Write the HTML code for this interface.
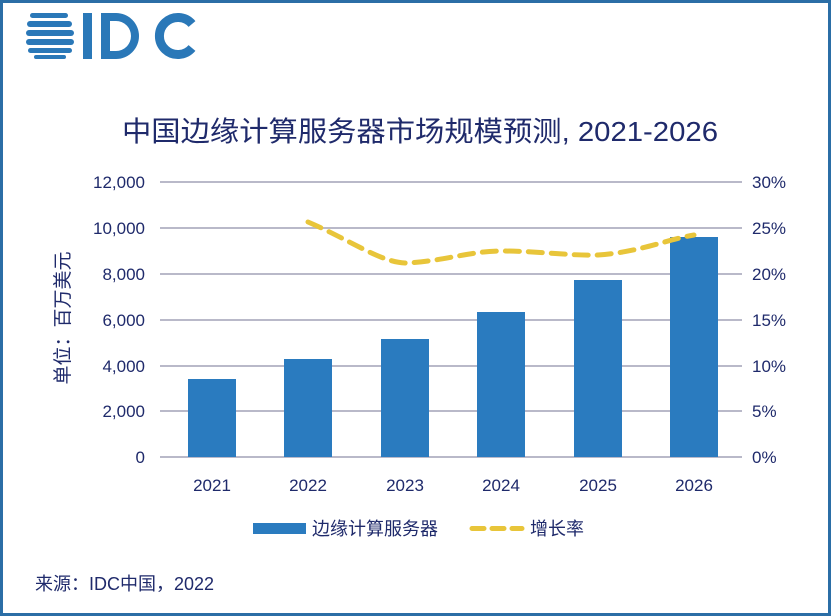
<!DOCTYPE html>
<html><head><meta charset="utf-8"><style>
html,body{margin:0;padding:0;background:#fff;}
svg{display:block;}
text{font-family:"Liberation Sans","Noto Sans CJK SC",sans-serif;fill:#1f2a6b;}
</style></head><body>
<svg width="831" height="616" viewBox="0 0 831 616" xmlns="http://www.w3.org/2000/svg">
<rect x="0" y="0" width="831" height="616" fill="#fff"/>
<rect x="1.5" y="1.5" width="828" height="613" fill="none" stroke="#2b6ea6" stroke-width="3"/>
<!-- logo -->
<g fill="#2a78b8">
<rect x="30" y="13" width="38" height="5" rx="2.5"/>
<rect x="27" y="21" width="45" height="6" rx="3"/>
<rect x="26" y="30" width="48" height="6" rx="3"/>
<rect x="26" y="39" width="48" height="6" rx="3"/>
<rect x="28" y="48" width="44" height="5" rx="2.5"/>
<rect x="34" y="55" width="32" height="4" rx="2"/>
<rect x="83" y="13" width="9" height="46"/>
<path d="M101 13 h15 a23 23 0 0 1 0 46 h-15 z M110 21 v30 h6 a15 15 0 0 0 0 -30 z" fill-rule="evenodd"/>
</g>
<path d="M192 24 A18.5 18.5 0 1 0 192 48" fill="none" stroke="#2a78b8" stroke-width="9"/>
<text x="122" y="141" font-size="28" textLength="596" lengthAdjust="spacingAndGlyphs">中国边缘计算服务器市场规模预测, 2021-2026</text>
<!-- grid -->
<g stroke="#b9b9c9" stroke-width="2">
<line x1="160" y1="182" x2="742" y2="182"/>
<line x1="160" y1="228" x2="742" y2="228"/>
<line x1="160" y1="274" x2="742" y2="274"/>
<line x1="160" y1="320" x2="742" y2="320"/>
<line x1="160" y1="366" x2="742" y2="366"/>
<line x1="160" y1="411" x2="742" y2="411"/>
<line x1="160" y1="457" x2="742" y2="457"/>
</g>
<g font-size="17" text-anchor="end">
<text x="145" y="188">12,000</text>
<text x="145" y="234">10,000</text>
<text x="145" y="280">8,000</text>
<text x="145" y="326">6,000</text>
<text x="145" y="372">4,000</text>
<text x="145" y="417">2,000</text>
<text x="145" y="463">0</text>
</g>
<g font-size="17" text-anchor="start">
<text x="752" y="188">30%</text>
<text x="752" y="234">25%</text>
<text x="752" y="280">20%</text>
<text x="752" y="326">15%</text>
<text x="752" y="372">10%</text>
<text x="752" y="417">5%</text>
<text x="752" y="463">0%</text>
</g>
<text transform="translate(69 318) rotate(-90)" font-size="19" text-anchor="middle">单位：百万美元</text>
<g fill="#2a7bbf">
<rect x="188" y="379" width="48" height="78"/>
<rect x="284" y="359" width="48" height="98"/>
<rect x="381" y="339" width="48" height="118"/>
<rect x="477" y="312" width="48" height="145"/>
<rect x="574" y="280" width="48" height="177"/>
<rect x="670" y="237" width="48" height="220"/>
</g>
<path d="M308 222 C350 240 380 262 405 263 C440 262 470 251 501 251 C540 251 570 256 598 255 C640 252 665 240 694 235" fill="none" stroke="#e8c53a" stroke-width="5" stroke-dasharray="14 9" stroke-linecap="round"/>
<g font-size="17" text-anchor="middle">
<text x="212" y="491">2021</text>
<text x="308" y="491">2022</text>
<text x="405" y="491">2023</text>
<text x="501" y="491">2024</text>
<text x="598" y="491">2025</text>
<text x="694" y="491">2026</text>
</g>
<rect x="253" y="523" width="53" height="11" fill="#2a7bbf"/>
<text x="312" y="535" font-size="18">边缘计算服务器</text>
<line x1="472" y1="528.5" x2="522" y2="528.5" stroke="#e8c53a" stroke-width="5" stroke-dasharray="12 8" stroke-linecap="round"/>
<text x="530" y="535" font-size="18">增长率</text>
<text x="35" y="590" font-size="18">来源：IDC中国，2022</text>
</svg>
</body></html>
